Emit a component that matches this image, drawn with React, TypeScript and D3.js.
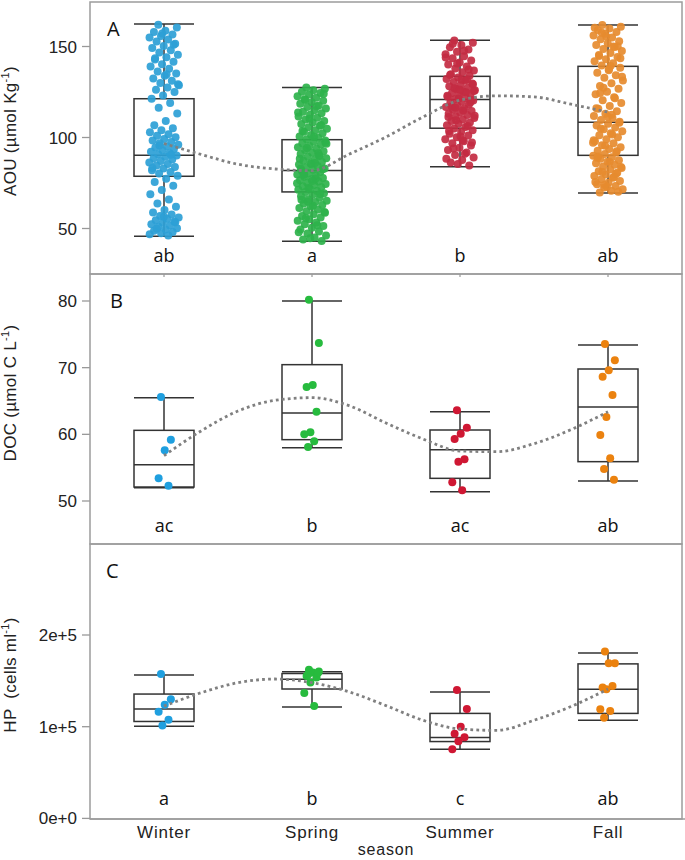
import React from 'react';
import * as d3 from 'd3';

const seasons = ['Winter', 'Spring', 'Summer', 'Fall'];

// panel A: AOU (µmol Kg-1)
const aouWinter = [162.0, 160.4, 158.7, 157.9, 156.6, 155.8, 155.0, 153.9, 152.8, 151.5, 150.3, 149.2, 148.0, 146.7, 145.5, 144.1, 142.9, 141.6, 140.2, 139.0, 137.8, 136.3, 135.1, 133.9, 132.4, 131.2, 130.0, 128.7, 127.5, 126.2, 125.0, 123.1, 121.3, 118.9, 116.4, 113.2, 109.0, 106.7, 105.1, 104.0, 102.9, 101.8, 100.9, 100.1, 99.2, 98.4, 97.5, 96.8, 96.0, 95.2, 94.5, 93.7, 93.0, 92.2, 91.5, 90.8, 90.1, 89.4, 88.6, 87.9, 87.1, 86.3, 85.5, 84.6, 83.8, 82.9, 82.0, 81.1, 80.2, 79.0, 77.4, 75.6, 73.5, 71.2, 68.8, 66.0, 63.7, 61.9, 60.1, 58.8, 57.7, 56.9, 56.1, 55.3, 54.6, 53.8, 53.1, 52.4, 51.6, 50.9, 50.2, 49.5, 48.8, 48.1, 47.4, 46.8, 46.2, 49.8, 53.5, 56.5, 83.2, 90.5, 95.6, 129.3, 134.7, 143.5, 150.9, 157.1];
const aouSpring = [127.5, 126.8, 125.9, 125.1, 124.4, 123.6, 122.7, 121.9, 121.0, 120.2, 119.3, 118.5, 117.6, 116.8, 115.9, 115.0, 114.2, 113.3, 112.5, 111.6, 110.8, 109.9, 109.1, 108.2, 107.4, 106.5, 105.7, 104.8, 104.0, 103.1, 102.3, 101.4, 100.6, 99.8, 99.1, 98.3, 97.6, 96.8, 96.1, 95.3, 94.6, 93.8, 93.1, 92.4, 91.6, 90.9, 90.1, 89.4, 88.6, 87.9, 87.2, 86.5, 85.8, 85.1, 84.4, 83.7, 83.0, 82.3, 81.7, 81.0, 80.4, 79.7, 79.1, 78.4, 77.8, 77.1, 76.5, 75.8, 75.2, 74.5, 73.9, 73.2, 72.6, 71.9, 71.3, 70.6, 70.0, 69.3, 68.5, 67.7, 66.9, 66.1, 65.3, 64.5, 63.7, 62.9, 62.1, 61.2, 60.4, 59.5, 58.7, 57.8, 56.9, 56.0, 55.1, 54.2, 53.3, 52.3, 51.4, 50.4, 49.4, 48.4, 47.3, 46.2, 45.1, 44.0, 43.1, 44.6, 47.9, 51.8, 55.6, 59.1, 62.5, 65.8, 68.9, 72.2, 74.9, 77.5, 80.0, 82.6, 85.4, 88.3, 91.3, 94.2, 97.2, 100.3, 103.6, 106.9, 110.3, 113.7, 117.2, 120.6, 124.0, 76.1, 82.8, 89.8, 64.9, 96.6, 86.0, 79.4];
const aouSummer = [153.3, 152.1, 150.8, 149.6, 148.3, 147.1, 145.8, 144.6, 143.5, 142.3, 141.2, 140.1, 139.0, 137.9, 136.8, 135.8, 134.8, 133.9, 133.0, 132.1, 131.3, 130.5, 129.7, 128.9, 128.1, 127.4, 126.6, 125.9, 125.2, 124.5, 123.8, 123.1, 122.4, 121.7, 121.0, 120.3, 119.6, 118.9, 118.2, 117.5, 116.8, 116.0, 115.3, 114.5, 113.8, 113.0, 112.3, 111.5, 110.7, 109.9, 109.1, 108.3, 107.5, 106.7, 105.8, 104.9, 104.0, 103.1, 102.1, 101.1, 100.1, 99.0, 97.9, 96.8, 95.6, 94.4, 93.1, 91.8, 90.4, 89.0, 87.6, 86.2, 84.6, 85.4, 88.3, 91.1, 94.0, 97.3, 100.6, 103.6, 106.3, 109.5, 112.0, 114.9, 117.1, 119.2, 121.4, 122.9, 124.8, 127.0, 129.3, 131.7, 134.3, 137.3, 140.6, 144.0, 147.7, 151.5, 120.6, 126.2, 111.2, 131.9, 116.4, 125.6, 98.5];
const aouFall = [161.8, 160.9, 159.9, 159.0, 158.0, 157.0, 156.0, 155.0, 154.0, 152.9, 151.8, 150.8, 149.7, 148.6, 147.5, 146.4, 145.3, 144.2, 143.0, 141.9, 140.8, 139.6, 138.3, 137.0, 135.6, 134.2, 132.8, 131.3, 129.8, 128.3, 126.8, 125.2, 123.7, 122.1, 120.5, 118.9, 117.3, 115.8, 114.4, 113.0, 111.8, 110.7, 109.6, 108.6, 107.6, 106.6, 105.5, 104.5, 103.4, 102.3, 101.2, 100.1, 99.0, 97.9, 96.8, 95.8, 94.7, 93.7, 92.7, 91.8, 90.9, 90.0, 89.2, 88.3, 87.5, 86.7, 85.8, 85.0, 84.1, 83.3, 82.4, 81.5, 80.6, 79.7, 78.8, 77.9, 77.0, 76.1, 75.2, 74.3, 73.4, 72.5, 71.6, 70.7, 69.8, 70.2, 72.9, 75.6, 78.3, 81.0, 83.8, 86.6, 89.5, 92.4, 95.4, 98.5, 101.6, 105.0, 108.1, 111.4, 116.1, 121.6, 127.4, 133.4, 139.3, 144.8, 150.2, 155.6, 160.3, 150.0, 157.5, 143.6, 137.5, 88.9, 80.1, 73.9, 97.1, 112.5, 124.4];
// [lower whisker, q1, median, q3, upper whisker]
const aouBoxes = [
  [45.7, 78.7, 90.2, 121.3, 162.3],
  [43.0, 70.1, 81.9, 98.8, 127.5],
  [83.9, 105.1, 120.9, 133.6, 153.5],
  [69.5, 90.2, 108.4, 139.1, 161.8]
];
const aouTrend = [96.7, 90.7, 85.3, 82.7, 81.8, 90.8, 100.3, 111.3, 120.5, 122.9, 122.3, 118.3, 114.0];
const aouLetters = ['ab', 'a', 'b', 'ab'];
const aouTicks = [50, 100, 150];

// panel B: DOC (µmol C L-1)
const docWinter = [65.6, 59.2, 57.6, 53.4, 52.3];
const docSpring = [80.2, 73.7, 67.4, 67.1, 63.4, 60.3, 60.0, 58.95, 58.1];
const docSummer = [63.6, 61.0, 60.1, 59.3, 56.25, 55.9, 52.8, 51.6];
const docFall = [73.55, 71.1, 69.6, 68.65, 65.9, 62.6, 59.9, 56.4, 54.8, 53.2];
const docBoxes = [
  [52.0, 52.1, 55.45, 60.6, 65.5],
  [58.0, 59.2, 63.2, 70.45, 80.0],
  [51.4, 53.4, 57.7, 60.65, 63.4],
  [53.0, 55.9, 64.1, 69.8, 73.4]
];
const docTrend = [56.8, 60.5, 63.5, 65.1, 65.5, 64.3, 61.7, 59.3, 57.5, 57.4, 58.6, 60.7, 63.4];
const docLetters = ['ac', 'b', 'ac', 'ab'];
const docTicks = [50, 60, 70, 80];

// panel C: HP (cells ml-1)
const hpWinter = [157600, 129800, 124000, 116300, 107600, 101300];
const hpSpring = [162000, 160200, 159100, 155400, 153600, 148100, 136700, 122500, 157000, 158500];
const hpSummer = [140000, 119200, 99900, 92200, 88500, 84100, 75300];
const hpFall = [182100, 169300, 169300, 142700, 144400, 140800, 118900, 117000, 109800];
const hpBoxes = [
  [100500, 105700, 119200, 135600, 156500],
  [121400, 141100, 151800, 158000, 159800],
  [75300, 83800, 88200, 114500, 137800],
  [107100, 114500, 140800, 168500, 180300]
];
const hpTrend = [122500, 137000, 148000, 152000, 148000, 138000, 123000, 107000, 97500, 96000, 107000, 122000, 141000];
const hpLetters = ['a', 'b', 'c', 'ab'];
const hpTicks = [0, 100000, 200000];

// smoother evaluated at quarter steps between seasons
const trendSteps = [0, 0.25, 0.5, 0.75, 1, 1.25, 1.5, 1.75, 2, 2.25, 2.5, 2.75, 3];

const colorsA = ['#2c9fd6', '#2eb24b', '#c32b42', '#e68b2f'];
const colorsBC = ['#1f9fdf', '#27bb3e', '#cf1733', '#eb820f'];

const W = 685;
const H = 860;
const left = 90;
const right = 682;
const sans = '"Liberation Sans", Arial, sans-serif';
const letterFont = '"Open Sans", sans-serif';

const x = d3.scaleBand().domain(seasons).range([left, right]);
const cx = (s: string) => (x(s) as number) + x.bandwidth() / 2;
const stepX = d3.scaleLinear().domain([0, 3]).range([cx('Winter'), cx('Fall')]);

const jitter = (i: number, hw: number) => (((i * 0.6180339887 + 0.31) % 1) * 2 - 1) * hw;

const panels = [
  {
    key: 'A', top: 2, bottom: 274,
    y: d3.scaleLinear().domain([25, 175]).range([274, 1]),
    points: [aouWinter, aouSpring, aouSummer, aouFall],
    boxes: aouBoxes, trend: aouTrend, letters: aouLetters, ticks: aouTicks,
    fmt: d3.format('d'), colors: colorsA, jw: 15, opacity: 0.92,
    title: ['AOU (µmol Kg', '-1', ')'], titleY: 131, letterY: 262, labelY: 36, labelX: 107
  },
  {
    key: 'B', top: 274, bottom: 544,
    y: d3.scaleLinear().domain([50, 80]).range([501, 301]),
    points: [docWinter, docSpring, docSummer, docFall],
    boxes: docBoxes, trend: docTrend, letters: docLetters, ticks: docTicks,
    fmt: d3.format('d'), colors: colorsBC, jw: 8, opacity: 1,
    title: ['DOC (µmol C L', '-1', ')'], titleY: 393, letterY: 532, labelY: 308, labelX: 110
  },
  {
    key: 'C', top: 544, bottom: 819,
    y: d3.scaleLinear().domain([0, 200000]).range([818.4, 635]),
    points: [hpWinter, hpSpring, hpSummer, hpFall],
    boxes: hpBoxes, trend: hpTrend, letters: hpLetters, ticks: hpTicks,
    fmt: d3.format('.0e'), colors: colorsBC, jw: 8, opacity: 1,
    title: ['HP  (cells ml', '-1', ')'], titleY: 675, letterY: 805, labelY: 578, labelX: 106
  }
];

const boxW = 60;

function Panel({ p }: { p: any }) {
  const line = d3
    .line<number>()
    .x((d, i) => stepX(trendSteps[i]))
    .y(d => p.y(d))
    .curve(d3.curveMonotoneX);
  return (
    <g>
      {/* boxes */}
      {seasons.map((s, i) => {
        const [lo, q1, med, q3, hi] = p.boxes[i];
        const c = cx(s);
        return (
          <g key={s} stroke="#333" strokeWidth={1.5} fill="none">
            <line x1={c} x2={c} y1={p.y(hi)} y2={p.y(q3)} />
            <line x1={c} x2={c} y1={p.y(q1)} y2={p.y(lo)} />
            <line x1={c - boxW / 2} x2={c + boxW / 2} y1={p.y(hi)} y2={p.y(hi)} />
            <line x1={c - boxW / 2} x2={c + boxW / 2} y1={p.y(lo)} y2={p.y(lo)} />
            <rect x={c - boxW / 2} width={boxW} y={p.y(q3)} height={p.y(q1) - p.y(q3)} fill="#fff" />
            <line x1={c - boxW / 2} x2={c + boxW / 2} y1={p.y(med)} y2={p.y(med)} />
          </g>
        );
      })}
      {/* jittered points */}
      {seasons.map((s, i) => (
        <g key={s} fill={p.colors[i]} fillOpacity={p.opacity}>
          {p.points[i].map((v: number, j: number) => (
            <circle key={j} cx={cx(s) + jitter(j, p.jw)} cy={p.y(v)} r={4} />
          ))}
        </g>
      ))}
      {/* smoother */}
      <path d={line(p.trend) || ''} fill="none" stroke="#808080" strokeWidth={2.8} strokeDasharray="2.8 3.2" />
      {/* significance letters */}
      {seasons.map((s, i) => (
        <text key={s} x={cx(s)} y={p.letterY} textAnchor="middle" fontFamily={letterFont} fontSize={18} fill="#111">
          {p.letters[i]}
        </text>
      ))}
      <text x={p.labelX} y={p.labelY} fontFamily={letterFont} fontSize={20} fill="#111">{p.key}</text>
      {/* y axis */}
      {p.ticks.map((t: number) => (
        <g key={t}>
          <line x1={82} x2={left} y1={p.y(t)} y2={p.y(t)} stroke="#999" strokeWidth={1.3} />
          <text x={77} y={p.y(t) + 6} textAnchor="end" fontFamily={sans} fontSize={17} fill="#222">
            {p.fmt(t)}
          </text>
        </g>
      ))}
      <text
        transform={`translate(16,${p.titleY}) rotate(-90)`}
        textAnchor="middle"
        fontFamily={sans}
        fontSize={17}
        letterSpacing={0.3}
        fill="#222"
        style={{ whiteSpace: 'pre' }}
      >
        {p.title[0]}
        <tspan fontSize={11} dy={-7}>{p.title[1]}</tspan>
        <tspan dy={7}>{p.title[2]}</tspan>
      </text>
      {/* frame */}
      <rect x={left} y={p.top} width={right - left} height={p.bottom - p.top} fill="none" stroke="#9c9c9c" strokeWidth={1.5} />
    </g>
  );
}

export default function App() {
  return (
    <svg width={W} height={H} style={{ position: 'absolute', left: 0, top: 0, background: '#fff' }}>
      <rect width={W} height={H} fill="#fff" />
      {panels.map(p => (
        <Panel key={p.key} p={p} />
      ))}
      {seasons.map(s => (
        <line key={s} x1={cx(s)} x2={cx(s)} y1={274} y2={277} stroke="#999" strokeWidth={1.2} />
      ))}
      <line x1={left} x2={W} y1={819} y2={819} stroke="#9c9c9c" strokeWidth={1.5} />
      {seasons.map(s => (
        <text key={s} x={cx(s)} y={838} textAnchor="middle" fontFamily={sans} fontSize={17} letterSpacing={0.8} fill="#222">
          {s}
        </text>
      ))}
      <text x={(left + right) / 2} y={855} textAnchor="middle" fontFamily={sans} fontSize={16} letterSpacing={0.8} fill="#222">
        season
      </text>
    </svg>
  );
}
